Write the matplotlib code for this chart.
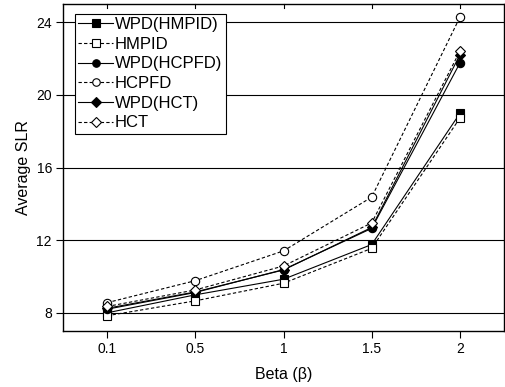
import matplotlib
matplotlib.use("Agg")
import matplotlib.pyplot as plt

plt.rcParams['font.family'] = ['Liberation Sans', 'DejaVu Sans']

categories = ["0.1", "0.5", "1", "1.5", "2"]
wpd_hmpid = [8.00, 8.99, 9.85, 11.76, 18.98]
hmpid = [7.84, 8.66, 9.63, 11.55, 18.72]
wpd_hcpfd = [8.20, 9.12, 10.38, 12.65, 21.75]
hcpfd = [8.56, 9.77, 11.41, 14.37, 24.27]
wpd_hct = [8.25, 9.15, 10.36, 12.70, 22.20]
hct = [8.35, 9.26, 10.58, 12.95, 22.40]

yticks = [8, 12, 16, 20, 24]

series = [
    ("WPD(HMPID)", wpd_hmpid, "s", "black", "-"),
    ("HMPID", hmpid, "s", "white", (0, (3, 2))),
    ("WPD(HCPFD)", wpd_hcpfd, "o", "black", "-"),
    ("HCPFD", hcpfd, "o", "white", (0, (3, 2))),
    ("WPD(HCT)", wpd_hct, "D", "black", "-"),
    ("HCT", hct, "D", "white", (0, (3, 2))),
]

fig = plt.figure(figsize=(5.06, 3.87), dpi=100)
ax = fig.add_axes([63/506, 1 - 331/387, (504-63)/506, (331-4)/387])

x = list(range(len(categories)))
for label, vals, mk, fc, ls in series:
    ms = 6.0 if mk != "D" else 5.2
    ax.plot(x, vals, linestyle=ls, color="black", linewidth=0.8,
            marker=mk, markersize=ms, markerfacecolor=fc,
            markeredgecolor="black", markeredgewidth=0.8, label=label)

ax.set_xlim(-0.5, 4.5)
ax.set_ylim(7, 25)
ax.set_xticks(x)
ax.set_xticklabels(categories)
ax.set_yticks(yticks)
ax.yaxis.grid(True, color="black", linewidth=0.8)
ax.set_axisbelow(True)
for s in ax.spines.values():
    s.set_linewidth(1.0)
ax.tick_params(axis="both", which="major", direction="out", length=5, width=0.8,
               labelsize=10, pad=3)
ax.set_xlabel("Beta (β)", fontsize=11.5, labelpad=8)
ax.set_ylabel("Average SLR", fontsize=11.5, labelpad=4)

# inward ticks on the top spine
for xi in x:
    ax.plot([xi, xi], [25, 25 - 0.2], color="black", linewidth=0.8, clip_on=False)

leg = ax.legend(loc="upper left", bbox_to_anchor=(0.027, 0.97), fontsize=12,
                frameon=True, fancybox=False, edgecolor="black", framealpha=1,
                handlelength=2.1, handletextpad=0.1, labelspacing=0.28,
                borderpad=0.2, borderaxespad=0.0, markerscale=0.9)
leg.get_frame().set_linewidth(0.8)

fig.savefig("out.png", dpi=100)
